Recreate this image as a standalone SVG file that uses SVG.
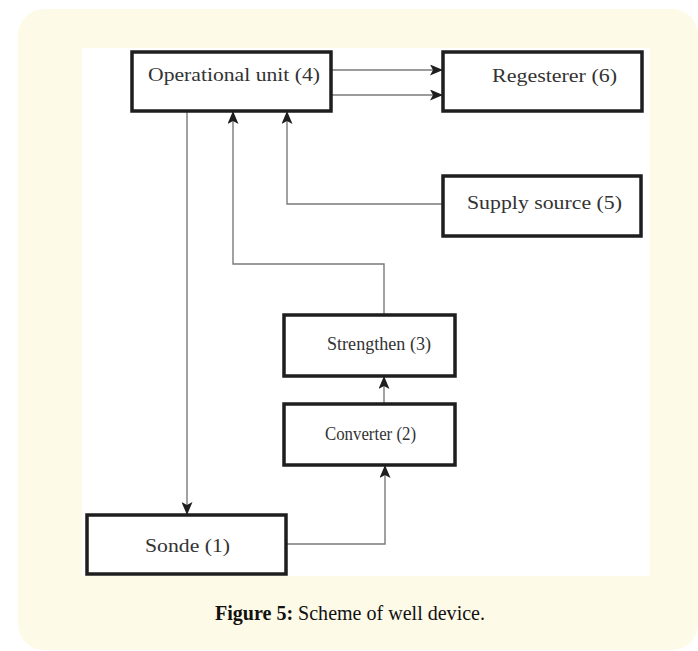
<svg xmlns="http://www.w3.org/2000/svg" width="698" height="651" viewBox="0 0 698 651">
<defs>
<style>
.box{fill:#fff;stroke:#1e1e1e;stroke-width:3.5}
.lbl{font-family:"Liberation Serif","Times New Roman",serif;font-size:19px;fill:#333}
.conn{fill:none;stroke:#7a7a7a;stroke-width:1.4}
.cap{font-family:"Liberation Serif","Times New Roman",serif;font-size:21px;fill:#111}
</style>
<marker id="ah" markerUnits="userSpaceOnUse" markerWidth="13" markerHeight="11" refX="13" refY="5.5" orient="auto">
<path d="M0,0 L13,5.5 L0,11 L3,5.5 Z" fill="#1e1e1e"/>
</marker>
</defs>
<rect x="18" y="9" width="680" height="641" rx="26" fill="#fefae8"/>
<rect x="82" y="48" width="568" height="528" fill="#fff"/>
<g id="connectors">
<path class="conn" d="M331,70 H443" marker-end="url(#ah)"/>
<path class="conn" d="M331,95 H443" marker-end="url(#ah)"/>
<path class="conn" d="M443,204 H287 V111" marker-end="url(#ah)"/>
<path class="conn" d="M384,315 V264 H233 V111" marker-end="url(#ah)"/>
<path class="conn" d="M187,111 V515" marker-end="url(#ah)"/>
<path class="conn" d="M286,544 H385 V465" marker-end="url(#ah)"/>
<path class="conn" d="M384,404 V376" marker-end="url(#ah)"/>
</g>
<g id="op-unit">
<rect class="box" x="132" y="52" width="199" height="59"/>
<text class="lbl" x="148" y="81" textLength="172" lengthAdjust="spacingAndGlyphs">Operational unit (4)</text>
</g>
<g id="regesterer">
<rect class="box" x="443" y="52" width="199" height="59"/>
<text class="lbl" x="492" y="82" textLength="125" lengthAdjust="spacingAndGlyphs">Regesterer (6)</text>
</g>
<g id="supply">
<rect class="box" x="443" y="176" width="198" height="60"/>
<text class="lbl" x="467" y="209" textLength="155" lengthAdjust="spacingAndGlyphs">Supply source (5)</text>
</g>
<g id="strengthen">
<rect class="box" x="284" y="315" width="171" height="61"/>
<text class="lbl" x="327" y="350" textLength="104" lengthAdjust="spacingAndGlyphs">Strengthen (3)</text>
</g>
<g id="converter">
<rect class="box" x="284" y="404" width="171" height="61"/>
<text class="lbl" x="325" y="440" textLength="91" lengthAdjust="spacingAndGlyphs">Converter (2)</text>
</g>
<g id="sonde">
<rect class="box" x="87" y="515" width="199" height="59"/>
<text class="lbl" x="145" y="552" textLength="85" lengthAdjust="spacingAndGlyphs">Sonde (1)</text>
</g>
<text class="cap" x="215" y="620" textLength="270" lengthAdjust="spacingAndGlyphs"><tspan font-weight="bold">Figure 5:</tspan> Scheme of well device.</text>
</svg>
